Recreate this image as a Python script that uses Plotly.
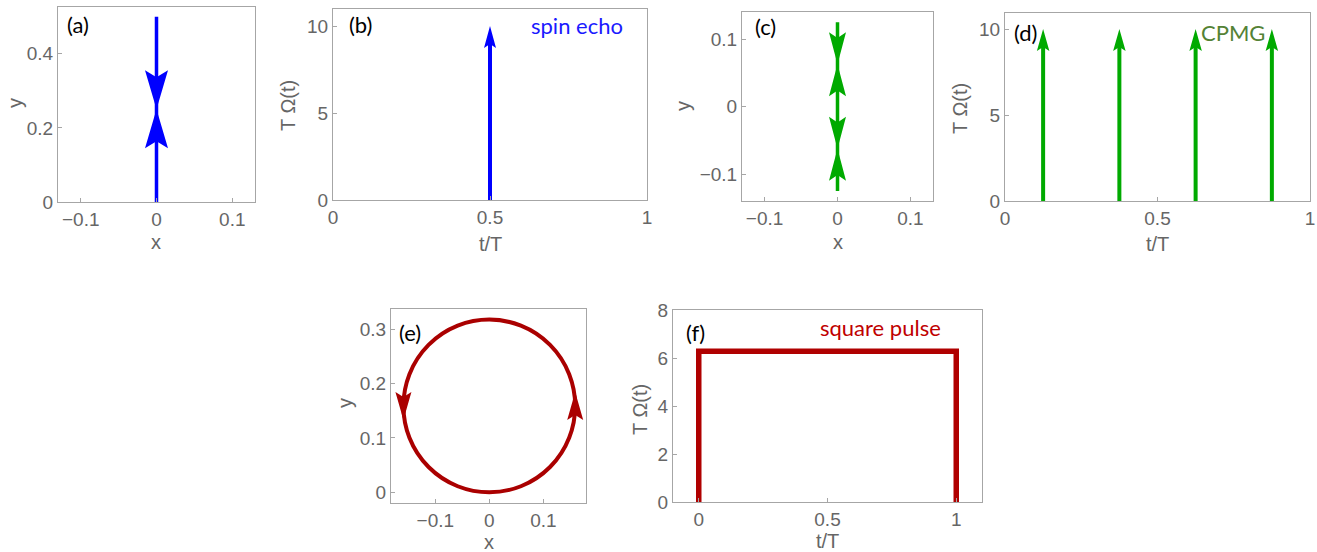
import numpy as np
import plotly.graph_objects as go

W, H = 1317, 552

# ---------------- data ----------------
# (a) spin echo trajectory (x, y) – arrows at segment midpoints
a_path_x = [0, 0, 0]
a_path_y = [0, 0.5, 0]
# (b) spin echo pulse times / amplitude
se_times = [0.5]
se_amp = 10
# (c) CPMG trajectory
c_path_x = [0, 0, 0, 0, 0]
c_path_y = [0, 0.125, 0, -0.125, 0]
# (d) CPMG pulse times / amplitude
cpmg_times = [0.125, 0.375, 0.625, 0.875]
cpmg_amp = 10
# (e) square-pulse trajectory: circle
circ_center = (0.0, 0.159)
circ_radius = 0.159
circ_arrow_angles = [0.0, np.pi]   # arrowheads (counter-clockwise motion)
# (f) square pulse
sq_t = [0, 0, 1, 1]
sq_v = [0, 6.28, 6.28, 0]

# tick labels
ticks = {
    "a": dict(x=[-0.1, 0, 0.1], xt=["−0.1", "0", "0.1"], y=[0, 0.2, 0.4], yt=["0", "0.2", "0.4"]),
    "b": dict(x=[0, 0.5, 1], xt=["0", "0.5", "1"], y=[0, 5, 10], yt=["0", "5", "10"]),
    "c": dict(x=[-0.1, 0, 0.1], xt=["−0.1", "0", "0.1"], y=[-0.1, 0, 0.1], yt=["−0.1", "0", "0.1"]),
    "d": dict(x=[0, 0.5, 1], xt=["0", "0.5", "1"], y=[0, 5, 10], yt=["0", "5", "10"]),
    "e": dict(x=[-0.1, 0, 0.1], xt=["−0.1", "0", "0.1"], y=[0, 0.1, 0.2, 0.3], yt=["0", "0.1", "0.2", "0.3"]),
    "f": dict(x=[0, 0.5, 1], xt=["0", "0.5", "1"], y=[0, 2, 4, 6, 8], yt=["0", "2", "4", "6", "8"]),
}

# ---------------- layout geometry (pixels) ----------------
boxes = {  # x0, x1, y0(top), y1(bottom)
    "a": (58, 255, 7, 202),
    "b": (333, 647, 9, 200),
    "c": (742, 933, 12, 201),
    "d": (1005, 1310, 13, 201),
    "e": (391, 586, 309, 503),
    "f": (673, 982, 310, 502),
}
ranges = {
    "a": ([-0.13, 0.13], [0, 0.526]),
    "b": ([0, 1], [0, 10.98]),
    "c": ([-0.131, 0.131], [-0.14, 0.14]),
    "d": ([0, 1], [0, 10.93]),
    "e": ([-0.182, 0.179], [-0.0197, 0.3375]),
    "f": ([-0.1, 1.1], [0, 8]),
}
order = ["a", "b", "c", "d", "e", "f"]

BLUE = "#0000ff"
GREEN = "#00aa00"
RED = "#aa0000"
FRAME = "#a6a6a6"
TICKC = "#666666"
SANS = "Liberation Sans, Arial, sans-serif"
TICKFONT = dict(family=SANS, size=19, color=TICKC)
LABFONT = "Lato, Carlito, Calibri, sans-serif"

fig = go.Figure()


def ax_names(p):
    i = order.index(p) + 1
    return ("x" if i == 1 else f"x{i}"), ("y" if i == 1 else f"y{i}")


def scale(p):
    x0, x1, y0, y1 = boxes[p]
    xr, yr = ranges[p]
    return (x1 - x0) / (xr[1] - xr[0]), (y1 - y0) / (yr[1] - yr[0])


def head(p, tip, d, L, Wd, color, notch=0.18, center=False):
    sx, sy = scale(p)
    u = np.array([d[0] * sx, d[1] * sy], dtype=float)
    u /= np.linalg.norm(u)
    n = np.array([-u[1], u[0]])
    t = np.array([tip[0] * sx, tip[1] * sy])
    if center:
        t = t + u * L / 2
    base = t - u * L
    pts = [t, base + n * Wd / 2, t - u * (L * (1 - notch)), base - n * Wd / 2, t]
    xs = [q[0] / sx for q in pts]
    ys = [q[1] / sy for q in pts]
    xa, ya = ax_names(p)
    fig.add_trace(go.Scatter(x=xs, y=ys, mode="lines", fill="toself", fillcolor=color,
                             line=dict(width=0, color=color), xaxis=xa, yaxis=ya,
                             hoverinfo="skip", showlegend=False))


def line(p, xs, ys, color, width):
    xa, ya = ax_names(p)
    fig.add_trace(go.Scatter(x=xs, y=ys, mode="lines", line=dict(color=color, width=width),
                             xaxis=xa, yaxis=ya, hoverinfo="skip", showlegend=False))


# (a)
line("a", a_path_x, a_path_y, BLUE, 3.5)
for i in range(len(a_path_y) - 1):
    mx = (a_path_x[i] + a_path_x[i + 1]) / 2
    my = (a_path_y[i] + a_path_y[i + 1]) / 2
    head("a", (mx, my), (a_path_x[i + 1] - a_path_x[i], a_path_y[i + 1] - a_path_y[i]), 39, 23, BLUE)

# (b)
for t in se_times:
    sx, sy = scale("b")
    line("b", [t, t], [0, se_amp - 12 / sy], BLUE, 4)
    head("b", (t, se_amp), (0, 1), 22, 12, BLUE)

# (c)
line("c", c_path_x, c_path_y, GREEN, 3.5)
for i in range(len(c_path_y) - 1):
    mx = (c_path_x[i] + c_path_x[i + 1]) / 2
    my = (c_path_y[i] + c_path_y[i + 1]) / 2
    head("c", (mx, my), (c_path_x[i + 1] - c_path_x[i], c_path_y[i + 1] - c_path_y[i]), 32, 17, GREEN)

# (d)
for t in cpmg_times:
    sx, sy = scale("d")
    line("d", [t, t], [0, cpmg_amp - 12 / sy], GREEN, 4)
    head("d", (t, cpmg_amp), (0, 1), 22, 12.5, GREEN)

# (e)
cx, cy = circ_center
r = circ_radius
fig.add_shape(type="circle", xref="x5", yref="y5", x0=cx - r, x1=cx + r, y0=cy - r, y1=cy + r,
              line=dict(color=RED, width=4), layer="below")
for ang in circ_arrow_angles:
    px_ = cx + r * np.cos(ang)
    py_ = cy + r * np.sin(ang)
    head("e", (px_, py_), (-np.sin(ang), np.cos(ang)), 28, 16, RED, center=True)

# (f)
line("f", sq_t, sq_v, "#b00000", 5.5)

# ---------------- axes ----------------
layout = dict(template="none", width=W, height=H, margin=dict(l=0, r=0, t=0, b=0, pad=0),
              autosize=False, paper_bgcolor="white", plot_bgcolor="white", showlegend=False)
for p in order:
    i = order.index(p) + 1
    xk = "xaxis" if i == 1 else f"xaxis{i}"
    yk = "yaxis" if i == 1 else f"yaxis{i}"
    xa, ya = ax_names(p)
    x0, x1, y0, y1 = boxes[p]
    xr, yr = ranges[p]
    common = dict(showgrid=False, zeroline=False, showline=True, mirror=True, linecolor=FRAME,
                  linewidth=1, ticks="inside", ticklen=4, tickcolor=FRAME, tickfont=TICKFONT,
                  fixedrange=True, automargin=False)
    layout[xk] = dict(domain=[x0 / W, x1 / W], range=xr, anchor=ya, tickmode="array",
                      tickvals=ticks[p]["x"], ticktext=ticks[p]["xt"], **common)
    layout[yk] = dict(domain=[1 - y1 / H, 1 - y0 / H], range=yr, anchor=xa, tickmode="array",
                      tickvals=ticks[p]["y"], ticktext=ticks[p]["yt"], **common)
fig.update_layout(**layout)

# ---------------- text ----------------
def ann(text, px, py, size=20, color=TICKC, family=SANS, angle=0):
    fig.add_annotation(text=text, x=px / W, y=1 - py / H, xref="paper", yref="paper",
                       showarrow=False, xanchor="center", yanchor="middle", textangle=angle,
                       font=dict(size=size, color=color, family=family))

# axis titles
ann("x", 156, 242)
ann("y", 15, 103, angle=-90)
ann("t/T", 490, 244)
ann("T Ω(t)", 288, 106, angle=-90)
ann("x", 838, 242)
ann("y", 683, 106, angle=-90)
ann("t/T", 1157, 244)
ann("T Ω(t)", 960, 109, angle=-90)
ann("x", 489, 542)
ann("y", 345, 403, angle=-90)
ann("t/T", 827, 541)
ann("T Ω(t)", 640, 410, angle=-90)

# panel labels
for lab, px, py in [("(a)", 78, 25), ("(b)", 360, 25), ("(c)", 765, 27), ("(d)", 1025, 32),
                    ("(e)", 410, 332), ("(f)", 695, 332)]:
    ann(lab, px, py, size=22, color="black", family=LABFONT)

ann("spin echo", 577, 26, size=22, color="#1a1aff", family=LABFONT)
ann("CPMG", 1233, 32, size=22, color="#548235", family=LABFONT)
ann("square pulse", 880, 327, size=22, color="#c00000", family=LABFONT)

fig.write_html("out.html", config={"displayModeBar": False},
               post_script="document.body.style.margin='0';document.body.style.overflow='hidden';")
